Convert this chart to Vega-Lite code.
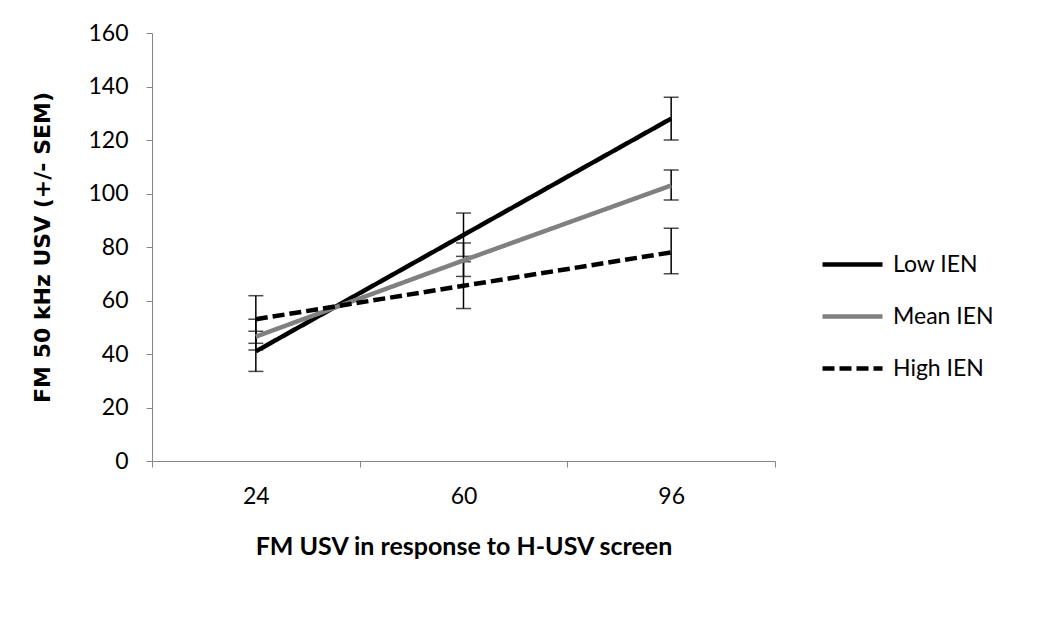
{
  "$schema": "https://vega.github.io/schema/vega-lite/v6.json",
  "width": 623,
  "height": 428,
  "autosize": "none",
  "padding": {"left": 152, "top": 33, "right": 275, "bottom": 171},
  "background": "white",
  "data": {"values": [
    {"x": "24", "series": "Low IEN", "value": 41, "lo": 33.5, "hi": 48.5},
    {"x": "60", "series": "Low IEN", "value": 84.5, "lo": 76.5, "hi": 92.7},
    {"x": "96", "series": "Low IEN", "value": 128, "lo": 120, "hi": 136},
    {"x": "24", "series": "Mean IEN", "value": 46.5, "lo": 41.5, "hi": 53},
    {"x": "60", "series": "Mean IEN", "value": 75, "lo": 69, "hi": 81.5},
    {"x": "96", "series": "Mean IEN", "value": 103, "lo": 97.6, "hi": 108.8},
    {"x": "24", "series": "High IEN", "value": 53, "lo": 44, "hi": 61.8},
    {"x": "60", "series": "High IEN", "value": 65.5, "lo": 57, "hi": 74.5},
    {"x": "96", "series": "High IEN", "value": 78, "lo": 70, "hi": 87}
  ]},
  "encoding": {
    "x": {"field": "x", "type": "ordinal", "sort": ["24", "60", "96"],
      "scale": {"paddingInner": 0, "paddingOuter": 0},
      "axis": {"title": "FM USV in response to H-USV screen", "labelAngle": 0, "tickBand": "extent",
        "domainColor": "#868686", "tickColor": "#868686", "tickSize": 6, "labelPadding": 18,
        "labelFont": "Lato", "labelFontSize": 23, "labelColor": "#000",
        "titleFont": "Lato", "titleFontSize": 25, "titleFontWeight": "bold", "titleColor": "#000", "titlePadding": 26}}
  },
  "layer": [
    {
      "mark": {"type": "rule", "strokeWidth": 1.5, "color": "#000"},
      "encoding": {"y": {"field": "lo", "type": "quantitative"}, "y2": {"field": "hi"}}
    },
    {
      "mark": {"type": "tick", "thickness": 1.5, "size": 15, "color": "#000"},
      "encoding": {"y": {"field": "lo", "type": "quantitative"}}
    },
    {
      "mark": {"type": "tick", "thickness": 1.5, "size": 15, "color": "#000"},
      "encoding": {"y": {"field": "hi", "type": "quantitative"}}
    },
    {
      "mark": {"type": "line", "strokeWidth": 4.5, "strokeCap": "butt"},
      "encoding": {
        "y": {"field": "value", "type": "quantitative", "scale": {"domain": [0, 160]},
          "axis": {"title": "FM 50 kHz USV (+/- SEM)", "grid": false, "values": [0,20,40,60,80,100,120,140,160],
            "domainColor": "#868686", "tickColor": "#868686", "tickSize": 6, "labelPadding": 18,
            "labelFont": "Lato", "labelFontSize": 23, "labelColor": "#000",
            "titleFont": "DejaVu Sans", "titleFontSize": 22, "titleFontWeight": "bold", "titleColor": "#000", "titlePadding": 33}},
        "color": {"field": "series", "type": "nominal", "sort": ["Low IEN", "Mean IEN", "High IEN"],
          "scale": {"domain": ["Low IEN", "Mean IEN", "High IEN"], "range": ["#000000", "#808080", "#000000"]},
          "legend": {"title": null, "orient": "none", "legendX": 668, "legendY": 199,
            "symbolType": "stroke", "symbolSize": 3600, "symbolStrokeWidth": 4.5,
            "labelFont": "Lato", "labelFontSize": 23, "labelColor": "#000", "labelOffset": 8, "rowPadding": 7}},
        "strokeDash": {"field": "series", "type": "nominal", "sort": ["Low IEN", "Mean IEN", "High IEN"],
          "scale": {"domain": ["Low IEN", "Mean IEN", "High IEN"], "range": [[1, 0], [1, 0], [12, 5]]},
          "legend": {"title": null, "orient": "none", "legendX": 668, "legendY": 199,
            "symbolType": "stroke", "symbolSize": 3600, "symbolStrokeWidth": 4.5,
            "labelFont": "Lato", "labelFontSize": 23, "labelColor": "#000", "labelOffset": 8, "rowPadding": 7}}
      }
    }
  ],
  "config": {"view": {"stroke": null}}
}
